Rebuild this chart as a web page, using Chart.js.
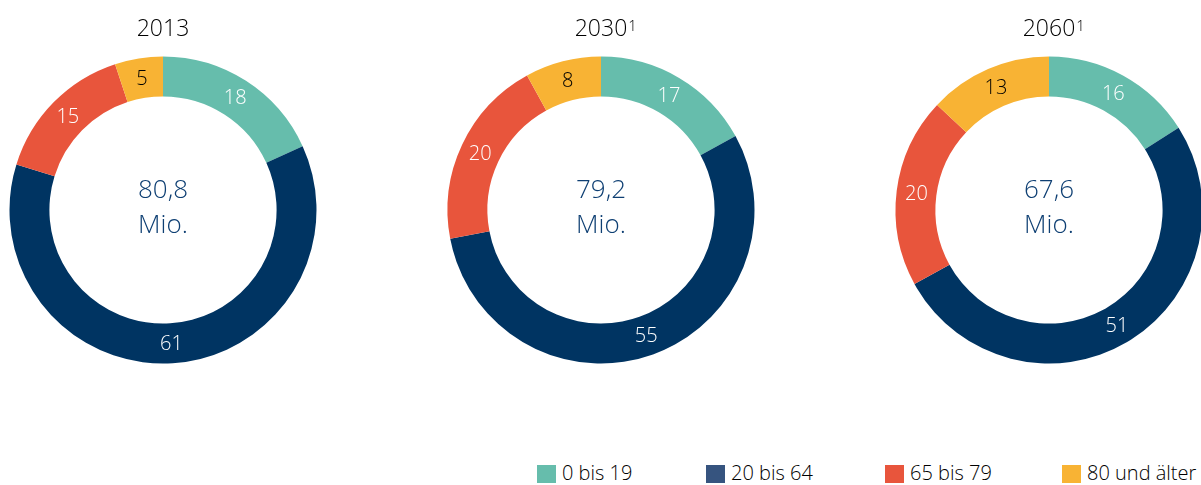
<!DOCTYPE html>
<html>
<head>
<meta charset="utf-8">
<script src="https://cdn.jsdelivr.net/npm/chart.js@4"></script>
<style>
  html, body { margin: 0; padding: 0; width: 1201px; height: 485px; overflow: hidden; background: #fff; }
  .wrap { position: absolute; top: 0; width: 400px; height: 390px; }
  .legend { position: absolute; top: 462px; left: 0; width: 1201px; height: 23px; font-family: 'Open Sans', sans-serif; font-size: 20px; font-weight: 300; color: #000; }
  .item { position: absolute; top: 0; white-space: nowrap; line-height: 23px; }
  .box { position: absolute; top: 3px; left: 0; width: 19px; height: 18px; }
  .txt { position: absolute; left: 25px; top: -1px; }
</style>
</head>
<body>
<div class="wrap" id="w0"><canvas id="c0"></canvas></div>
<div class="wrap" id="w1"><canvas id="c1"></canvas></div>
<div class="wrap" id="w2"><canvas id="c2"></canvas></div>
<div class="legend" id="legend"></div>
<script>
// ---- data ----
const categories = ['0 bis 19', '20 bis 64', '65 bis 79', '80 und älter'];
const years = ['2013', '2030', '2060'];
const footnotes = ['', '1', '1'];
const totals = ['80,8', '79,2', '67,6'];
const unitLabel = 'Mio.';
const values2013 = [18, 61, 15, 5];
const values2030 = [17, 55, 20, 8];
const values2060 = [16, 51, 20, 13];
const seriesByYear = [values2013, values2030, values2060];

// ---- styles ----
const colors = ['#66bdac', '#003462', '#e8553c', '#f8b334'];
const legendColors = ['#66bdac', '#36547f', '#e8553c', '#f8b334'];
const labelColors = ['#ffffff', '#ffffff', '#ffffff', '#000000'];
const centers = [163, 601, 1049];
const centerY = 210;
const radius = 153.5;
const canvasW = 400, canvasH = 390;
const fontFam = "'Open Sans', sans-serif";

const decorPlugin = {
  id: 'decor',
  afterDatasetsDraw(chart, args, opts) {
    const ctx = chart.ctx;
    const meta = chart.getDatasetMeta(0);
    const ds = chart.data.datasets[0];
    ctx.save();
    ctx.textAlign = 'center';
    ctx.textBaseline = 'middle';
    ctx.font = '300 20px ' + fontFam;
    meta.data.forEach((arc, i) => {
      const p = arc.tooltipPosition();
      ctx.fillStyle = labelColors[i];
      ctx.fillText(String(ds.data[i]), p.x, p.y + 1);
    });
    const cx = (chart.chartArea.left + chart.chartArea.right) / 2;
    const cy = (chart.chartArea.top + chart.chartArea.bottom) / 2;
    ctx.fillStyle = '#0e3f73';
    ctx.font = '300 26px ' + fontFam;
    ctx.textBaseline = 'alphabetic';
    ctx.fillText(opts.total, cx, cy - 12);
    ctx.fillText(unitLabel, cx, cy + 23);
    // title
    ctx.fillStyle = '#000';
    ctx.font = '300 23px ' + fontFam;
    ctx.textAlign = 'center';
    ctx.fillText(opts.year, cx, 36);
    if (opts.note) {
      const w = ctx.measureText(opts.year).width;
      ctx.textAlign = 'left';
      ctx.font = '300 15px ' + fontFam;
      ctx.fillText(opts.note, cx + w / 2 + 1, 31);
    }
    ctx.restore();
  }
};

years.forEach((yr, k) => {
  const w = document.getElementById('w' + k);
  w.style.left = (centers[k] - canvasW / 2) + 'px';
  const padTop = centerY - radius;
  const padBottom = canvasH - (centerY + radius);
  const padSide = (canvasW - 2 * radius) / 2;
  new Chart(document.getElementById('c' + k), {
    type: 'doughnut',
    data: {
      labels: categories,
      datasets: [{
        data: seriesByYear[k],
        backgroundColor: colors,
        borderWidth: 0,
        hoverOffset: 0
      }]
    },
    options: {
      responsive: true,
      maintainAspectRatio: false,
      animation: false,
      cutout: '74%',
      rotation: 0,
      layout: { padding: { top: padTop, bottom: padBottom, left: padSide, right: padSide } },
      plugins: {
        legend: { display: false },
        tooltip: { enabled: false },
        title: { display: false },
        decor: { year: yr, note: footnotes[k], total: totals[k] }
      },
      events: []
    },
    plugins: [decorPlugin]
  });
});

// legend
const legendX = [537, 706, 885, 1062];
const lg = document.getElementById('legend');
categories.forEach((c, i) => {
  const it = document.createElement('div');
  it.className = 'item';
  it.style.left = legendX[i] + 'px';
  it.innerHTML = '<span class="box" style="background:' + legendColors[i] + '"></span><span class="txt"></span>';
  it.querySelector('.txt').textContent = c;
  lg.appendChild(it);
});
</script>
</body>
</html>
